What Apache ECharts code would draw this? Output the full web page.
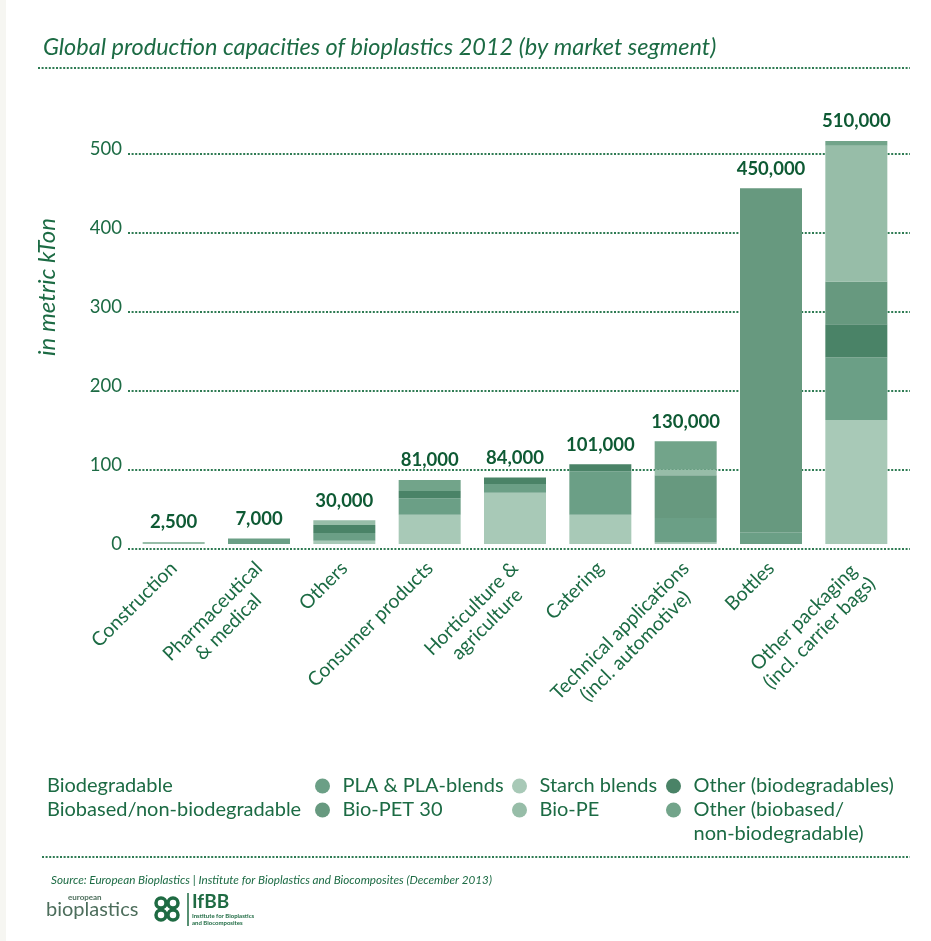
<!DOCTYPE html>
<html><head><meta charset="utf-8">
<script src="https://cdn.jsdelivr.net/npm/echarts@6/dist/echarts.min.js"></script>
<style>html,body{margin:0;padding:0;background:#fff}#c{width:931px;height:941px}</style>
</head><body><div id="c"></div>
<script>
// ---- data (kt) ----
const categories = ['Construction', 'Pharmaceutical\n& medical', 'Others', 'Consumer products', 'Horticulture &\nagriculture', 'Catering', 'Technical applications\n(incl. automotive)', 'Bottles', 'Other packaging\n(incl. carrier bags)'];
const starchBlends        = [0,   0, 4,  37, 65, 37,  2,   0, 157];
const plaBlends           = [0,   7, 10, 21, 11, 55, 31,  15,  79];
const otherBiodegradables = [0,   0, 10,  9,  8,  9,  0,   0,  42];
const bioPET30            = [0,   0, 0,   0,  0,  0, 54, 435,  54];
const bioPE               = [2.5, 0, 6,   0,  0,  0,  7,   0, 172];
const otherBiobased       = [0,   0, 0,  14,  0,  0, 36,   0,   6];
const totals              = [2.5, 7, 30, 81, 84, 101, 130, 450, 510];
const yTicks = [0, 100, 200, 300, 400, 500];

const GREEN = '#1c6b44', DARK = '#0e5a34', DOT = '#2e7b53';
const FONT = 'Lato';
const colors = {starch:'#a8c9b7', pla:'#6b9f86', otherBio:'#4a8367', pet:'#67997f', pe:'#97bda8', otherBased:'#72a48a'};

const chart = echarts.init(document.getElementById('c'));

function seg(name, data, color) {
  return {name, type:'bar', stack:'t', data, barWidth:62, itemStyle:{color}, emphasis:{disabled:true}, animation:false};
}

const series = [
  seg('Starch blends', starchBlends, colors.starch),
  seg('PLA & PLA-blends', plaBlends, colors.pla),
  seg('Other (biodegradables)', otherBiodegradables, colors.otherBio),
  seg('Bio-PET 30', bioPET30, colors.pet),
  seg('Bio-PE', bioPE, colors.pe),
  seg('Other (biobased/non-biodegradable)', otherBiobased, colors.otherBased),
  {name:'total', type:'bar', data: totals, barWidth:62, barGap:'-100%', silent:true, animation:false,
   itemStyle:{color:'rgba(0,0,0,0)'}, z:1,
   label:{show:true, position:'top', distance:10, color:DARK, fontFamily:FONT, fontWeight:'bold', fontSize:18.5,
     formatter: p => (p.value * 1000).toLocaleString('en-US')}}
];

const legendBase = {
  orient:'vertical', icon:'circle', itemWidth:30, itemHeight:15, itemGap:0, selectedMode:false, padding:0,
  textStyle:{color:GREEN, fontFamily:FONT, fontSize:20, lineHeight:24}
};

chart.setOption({
  animation:false,
  backgroundColor:'#ffffff',
  title:[
    {text:'Global production capacities of bioplastics 2012 (by market segment)', left:38, top:31,
     textStyle:{color:GREEN, fontFamily:FONT, fontStyle:'italic', fontWeight:'normal', fontSize:23.5}},
    {text:'Source: European Bioplastics | Institute for Bioplastics and Biocomposites (December 2013)', left:46, top:869,
     textStyle:{color:GREEN, fontFamily:FONT, fontStyle:'italic', fontWeight:'normal', fontSize:11.7}}
  ],
  grid:{left:131, right:32, top:133, bottom:397},
  xAxis:{type:'category', data:categories, axisLine:{show:false}, axisTick:{show:false},
    axisLabel:{interval:0, rotate:45, margin:21, color:GREEN, fontFamily:FONT, fontSize:19.5, lineHeight:22,
      formatter: v => {
        const parts = v.split('\n').map(s => '{a|' + s + '}');
        if (parts.length > 1) parts.unshift('{a| }');
        return parts.join('\n');
      },
      rich:{a:{align:'center', color:GREEN, fontFamily:FONT, fontSize:19.5, lineHeight:22}}}},
  yAxis:{type:'value', min:0, max:520, interval:100, splitLine:{show:false}, axisLine:{show:false}, axisTick:{show:false},
    axisLabel:{color:GREEN, fontFamily:FONT, fontSize:18.5, margin:9, showMaxLabel:false, padding:[6,0,0,0]}},
  legend:[
    Object.assign({}, legendBase, {left:315, top:774, data:['PLA & PLA-blends','Bio-PET 30']}),
    Object.assign({}, legendBase, {left:512, top:774, data:['Starch blends','Bio-PE']}),
    Object.assign({}, legendBase, {left:666, top:774, data:['Other (biodegradables)']}),
    Object.assign({}, legendBase, {left:666, top:774, data:['Other (biobased/non-biodegradable)'],
      formatter: () => '\nOther (biobased/\nnon-biodegradable)'})
  ],
  series
});

// decorations
const g = [];
yTicks.forEach((v, i) => {
  const y = Math.round(chart.convertToPixel({yAxisIndex:0}, v)) + 5;
  g.push({type:'line', id:'grid'+i, silent:true, z:-1, shape:{x1:128, y1:y, x2:910, y2:y},
    style:{stroke:DOT, lineWidth:2, lineDash:[2,1.6]}});
});
g.push({type:'line', silent:true, shape:{x1:38, y1:68, x2:910, y2:68}, style:{stroke:DOT, lineWidth:2, lineDash:[2,1.6]}});
g.push({type:'line', silent:true, shape:{x1:42, y1:857, x2:910, y2:857}, style:{stroke:DOT, lineWidth:2, lineDash:[2,1.6]}});
g.push({type:'text', silent:true, x:47, y:287, rotation:Math.PI/2,
  style:{text:'in metric kTon', font:'italic 24px Lato', fill:GREEN, align:'center', verticalAlign:'middle'}});
g.push({type:'text', silent:true, x:47, y:786, style:{text:'Biodegradable', font:'20px Lato', fill:GREEN, verticalAlign:'middle'}});
g.push({type:'text', silent:true, x:47, y:810, style:{text:'Biobased/non-biodegradable', font:'20px Lato', fill:GREEN, verticalAlign:'middle'}});
// logos
g.push({type:'text', silent:true, x:68, y:897, style:{text:'european', font:'bold 8px Lato', fill:'#4d6e5c', verticalAlign:'middle'}});
g.push({type:'text', silent:true, x:46, y:910, style:{text:'bioplastics', font:'20px Lato', fill:'#4d6e5c', verticalAlign:'middle'}});
[[-6,-6],[6,-6],[-6,6],[6,6]].forEach(([dx,dy]) => {
  g.push({type:'circle', silent:true, shape:{cx:167+dx, cy:909+dy, r:5}, style:{fill:'none', stroke:'#1f6b43', lineWidth:3.5}});
});
g.push({type:'line', silent:true, shape:{x1:188, y1:893, x2:188, y2:926}, style:{stroke:'#1f6b43', lineWidth:1.5}});
g.push({type:'text', silent:true, x:192, y:902, style:{text:'IfBB', font:'bold 19px Lato', fill:'#1f6b43', verticalAlign:'middle'}});
g.push({type:'text', silent:true, x:192, y:916, style:{text:'Institute for Bioplastics', font:'bold 6px Lato', fill:'#1f6b43', verticalAlign:'middle'}});
g.push({type:'text', silent:true, x:192, y:923, style:{text:'and Biocomposites', font:'bold 6px Lato', fill:'#1f6b43', verticalAlign:'middle'}});
g.push({type:'rect', silent:true, shape:{x:0, y:0, width:6, height:941}, style:{fill:'#f6f6f2'}});
chart.setOption({graphic:g});
</script>
</body></html>
